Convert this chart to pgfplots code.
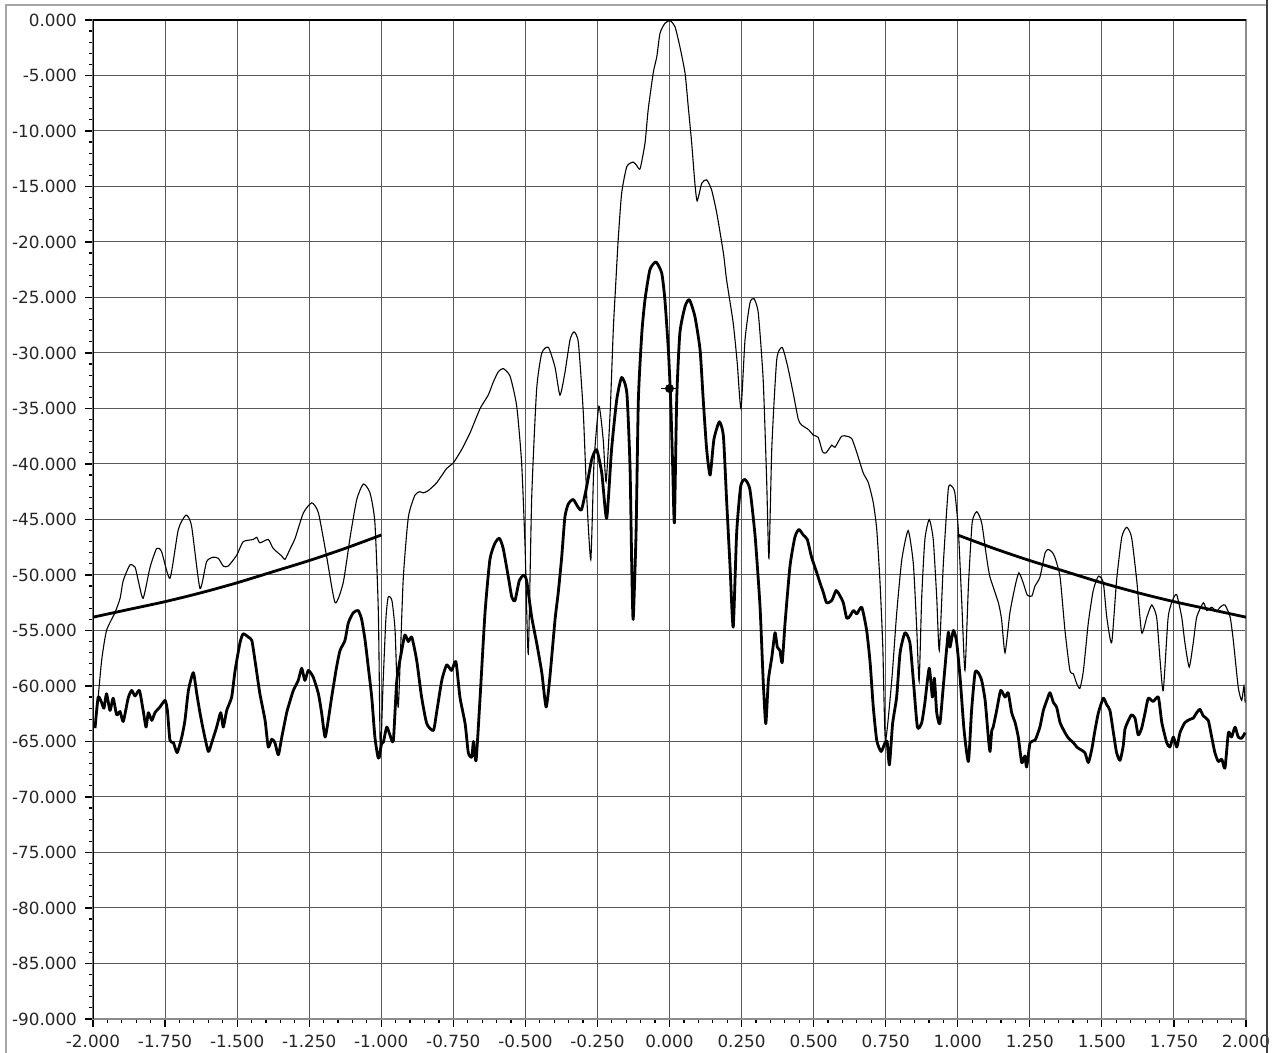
\documentclass[border=0pt]{standalone}
\usepackage{fontspec}
\setmainfont{DejaVu Sans}
\usepackage{pgfplots}
\pgfplotsset{compat=1.18}
\begin{document}
\begin{tikzpicture}
\begin{axis}[
  at={(0,0)}, anchor=south west,
  scale only axis, width=576.5pt, height=499.5pt,
  xmin=-2, xmax=2, ymin=-90, ymax=0,
  xtick={-2,-1.75,-1.5,-1.25,-1,-0.75,-0.5,-0.25,0,0.25,0.5,0.75,1,1.25,1.5,1.75,2},
  xticklabels={-2.000,-1.750,-1.500,-1.250,-1.000,-0.750,-0.500,-0.250,0.000,0.250,0.500,0.750,1.000,1.250,1.500,1.750,2.000},
  ytick={-90,-85,-80,-75,-70,-65,-60,-55,-50,-45,-40,-35,-30,-25,-20,-15,-10,-5,0},
  yticklabels={-90.000,-85.000,-80.000,-75.000,-70.000,-65.000,-60.000,-55.000,-50.000,-45.000,-40.000,-35.000,-30.000,-25.000,-20.000,-15.000,-10.000,-5.000,0.000},
  minor x tick num=4, minor y tick num=4,
  xtick pos=left, ytick pos=left,
  tick align=outside, major tick length=4pt, minor tick length=2pt,
  tick style={black, line width=0.6pt},
  grid=major, major grid style={black!65, line width=0.5pt},
  axis line style={black!45, line width=0.6pt},
  ticklabel style={font=\fontsize{8.4}{10}\selectfont, text=black!85},
  xticklabel style={yshift=-0.5pt},
  yticklabel style={xshift=-0.5pt},
  clip=true,
]
% thin curve
\addplot[black, line width=0.55pt, smooth, tension=0.35] coordinates {
(-1.993,-63.5)(-1.987,-62.4)(-1.970,-57.7)(-1.953,-55.0)(-1.924,-53.4)(-1.906,-52.1)(-1.895,-50.5)(-1.872,-49.1)(-1.854,-49.3)(-1.843,-50.5)(-1.826,-52.1)(-1.802,-49.3)(-1.779,-47.6)(-1.762,-47.9)(-1.733,-50.3)(-1.704,-45.9)(-1.677,-44.6)(-1.658,-45.6)(-1.629,-51.2)(-1.606,-48.8)(-1.583,-48.4)(-1.565,-48.5)(-1.548,-49.2)(-1.531,-49.2)(-1.501,-48.2)(-1.479,-47.0)(-1.444,-46.8)(-1.432,-46.6)(-1.421,-47.1)(-1.392,-46.8)(-1.375,-47.6)(-1.345,-48.3)(-1.334,-48.6)(-1.317,-47.7)(-1.299,-46.7)(-1.270,-44.4)(-1.241,-43.5)(-1.218,-44.4)(-1.189,-48.4)(-1.160,-52.5)(-1.132,-50.7)(-1.108,-46.6)(-1.085,-43.2)(-1.062,-41.8)(-1.039,-42.6)(-1.022,-45.3)(-1.010,-53.4)(-1.003,-66.2)(-0.994,-60.0)(-0.984,-54.0)(-0.976,-52.0)(-0.963,-52.3)(-0.952,-55.0)(-0.941,-61.9)(-0.924,-50.5)(-0.906,-44.8)(-0.883,-42.8)(-0.866,-42.5)(-0.854,-42.6)(-0.837,-42.4)(-0.808,-41.7)(-0.773,-40.4)(-0.750,-39.9)(-0.721,-38.7)(-0.692,-37.2)(-0.657,-35.0)(-0.629,-33.8)(-0.611,-32.6)(-0.594,-31.7)(-0.577,-31.4)(-0.553,-32.1)(-0.530,-34.8)(-0.513,-39.9)(-0.501,-47.5)(-0.490,-57.1)(-0.478,-43.0)(-0.461,-33.3)(-0.443,-30.0)(-0.420,-29.5)(-0.397,-31.3)(-0.380,-33.8)(-0.363,-31.8)(-0.345,-28.8)(-0.331,-28.1)(-0.316,-29.1)(-0.299,-35.4)(-0.287,-43.0)(-0.273,-48.6)(-0.262,-39.9)(-0.245,-34.8)(-0.230,-37.8)(-0.220,-41.6)(-0.206,-35.4)(-0.195,-27.9)(-0.187,-24.0)(-0.178,-19.8)(-0.166,-15.6)(-0.148,-13.2)(-0.126,-12.8)(-0.114,-13.1)(-0.102,-13.4)(-0.085,-11.1)(-0.074,-8.1)(-0.056,-4.7)(-0.044,-3.3)(-0.033,-1.2)(-0.016,-0.3)(0.002,-0.06)(0.019,-0.6)(0.036,-2.4)(0.054,-4.8)(0.065,-7.8)(0.077,-11.1)(0.088,-14.7)(0.096,-16.3)(0.112,-14.7)(0.129,-14.4)(0.146,-15.3)(0.164,-17.4)(0.187,-21.0)(0.198,-23.4)(0.221,-27.3)(0.235,-30.9)(0.248,-35.0)(0.262,-28.8)(0.279,-25.5)(0.293,-25.1)(0.308,-26.4)(0.325,-32.4)(0.337,-41.4)(0.345,-48.5)(0.355,-38.5)(0.372,-30.6)(0.391,-29.5)(0.409,-31.1)(0.429,-33.6)(0.447,-36.0)(0.459,-36.5)(0.482,-36.9)(0.499,-37.4)(0.516,-37.6)(0.531,-38.9)(0.543,-39.0)(0.563,-38.3)(0.574,-38.5)(0.597,-37.5)(0.615,-37.5)(0.632,-37.7)(0.649,-38.9)(0.672,-40.8)(0.690,-41.7)(0.707,-43.5)(0.719,-45.9)(0.730,-50.5)(0.740,-56.5)(0.749,-64.9)(0.771,-59.5)(0.788,-53.5)(0.806,-48.6)(0.828,-46.0)(0.846,-49.0)(0.858,-55.0)(0.866,-59.6)(0.875,-52.0)(0.886,-46.8)(0.901,-45.0)(0.915,-46.8)(0.927,-52.0)(0.936,-56.8)(0.950,-49.0)(0.967,-42.3)(0.979,-42.0)(0.990,-42.6)(1.002,-45.9)(1.014,-52.5)(1.025,-58.6)(1.037,-51.0)(1.050,-45.3)(1.066,-44.3)(1.083,-45.3)(1.100,-48.4)(1.112,-50.2)(1.141,-52.5)(1.152,-54.0)(1.164,-57.0)(1.181,-53.4)(1.199,-51.0)(1.212,-49.8)(1.227,-50.7)(1.241,-51.8)(1.257,-51.9)(1.268,-51.0)(1.285,-50.2)(1.303,-48.0)(1.314,-47.7)(1.326,-47.9)(1.337,-48.4)(1.355,-50.2)(1.372,-55.0)(1.389,-58.6)(1.401,-58.9)(1.413,-59.8)(1.424,-60.2)(1.436,-58.6)(1.453,-54.3)(1.470,-51.4)(1.488,-50.1)(1.505,-50.7)(1.517,-53.8)(1.534,-56.1)(1.551,-50.5)(1.569,-46.6)(1.586,-45.7)(1.603,-46.6)(1.621,-50.5)(1.638,-55.2)(1.656,-53.8)(1.673,-52.7)(1.690,-53.8)(1.702,-57.7)(1.713,-60.4)(1.730,-53.8)(1.748,-52.1)(1.760,-51.8)(1.777,-53.8)(1.788,-56.1)(1.803,-58.3)(1.817,-56.1)(1.829,-53.8)(1.852,-52.5)(1.864,-53.2)(1.881,-52.9)(1.898,-53.3)(1.910,-52.9)(1.927,-52.7)(1.945,-53.8)(1.956,-55.9)(1.973,-60.1)(1.985,-61.3)(1.993,-60.0)(1.997,-61.5)
};
% thick curve
\addplot[black, line width=1.4pt, line join=round, smooth, tension=0.35] coordinates {
(-1.993,-63.8)(-1.982,-61.0)(-1.970,-61.5)(-1.962,-62.0)(-1.953,-60.7)(-1.941,-62.2)(-1.930,-61.1)(-1.918,-62.6)(-1.906,-62.3)(-1.895,-63.2)(-1.878,-61.1)(-1.866,-60.4)(-1.854,-60.9)(-1.839,-60.4)(-1.826,-62.2)(-1.816,-63.7)(-1.808,-62.4)(-1.796,-63.1)(-1.785,-62.4)(-1.768,-61.9)(-1.750,-61.3)(-1.742,-62.2)(-1.733,-64.9)(-1.721,-65.1)(-1.708,-66.0)(-1.692,-64.6)(-1.681,-63.1)(-1.669,-60.4)(-1.652,-58.8)(-1.640,-60.7)(-1.629,-62.4)(-1.617,-64.0)(-1.600,-65.9)(-1.588,-65.1)(-1.571,-63.7)(-1.557,-62.4)(-1.548,-63.7)(-1.536,-62.2)(-1.519,-61.0)(-1.507,-58.6)(-1.490,-56.1)(-1.479,-55.3)(-1.461,-55.6)(-1.449,-55.9)(-1.438,-57.7)(-1.421,-60.7)(-1.403,-63.1)(-1.392,-65.5)(-1.380,-64.8)(-1.369,-65.1)(-1.357,-66.2)(-1.345,-64.6)(-1.328,-62.4)(-1.317,-61.4)(-1.305,-60.4)(-1.288,-59.5)(-1.276,-58.4)(-1.265,-59.5)(-1.253,-58.6)(-1.236,-59.2)(-1.218,-60.7)(-1.207,-62.4)(-1.195,-64.6)(-1.184,-63.1)(-1.172,-61.0)(-1.155,-58.3)(-1.143,-56.8)(-1.126,-55.9)(-1.114,-54.3)(-1.097,-53.4)(-1.080,-53.2)(-1.068,-54.0)(-1.056,-55.9)(-1.045,-58.3)(-1.033,-61.0)(-1.022,-64.6)(-1.010,-66.5)(-0.998,-65.1)(-0.993,-65.1)(-0.981,-63.7)(-0.970,-64.4)(-0.958,-64.9)(-0.946,-59.5)(-0.929,-56.8)(-0.918,-55.4)(-0.906,-56.0)(-0.894,-55.6)(-0.877,-57.7)(-0.860,-61.0)(-0.842,-63.4)(-0.819,-64.0)(-0.808,-62.4)(-0.790,-59.5)(-0.773,-58.1)(-0.756,-58.6)(-0.741,-57.8)(-0.727,-61.0)(-0.709,-63.4)(-0.698,-66.0)(-0.686,-66.4)(-0.680,-65.0)(-0.671,-66.7)(-0.657,-61.0)(-0.640,-53.4)(-0.623,-48.6)(-0.605,-47.1)(-0.590,-46.7)(-0.577,-47.6)(-0.559,-50.2)(-0.547,-52.0)(-0.536,-52.3)(-0.521,-50.5)(-0.505,-50.0)(-0.495,-50.6)(-0.478,-53.8)(-0.461,-56.1)(-0.443,-58.8)(-0.428,-61.9)(-0.415,-59.2)(-0.397,-54.0)(-0.386,-51.6)(-0.374,-48.4)(-0.363,-44.8)(-0.351,-43.6)(-0.334,-43.2)(-0.317,-43.9)(-0.305,-44.1)(-0.287,-42.0)(-0.270,-39.6)(-0.253,-38.7)(-0.235,-40.8)(-0.218,-44.9)(-0.201,-38.7)(-0.183,-34.2)(-0.166,-32.2)(-0.148,-33.6)(-0.137,-40.2)(-0.131,-49.2)(-0.126,-54.0)(-0.116,-46.2)(-0.108,-34.2)(-0.096,-28.2)(-0.085,-25.2)(-0.068,-22.5)(-0.047,-21.8)(-0.027,-22.8)(-0.016,-25.2)(-0.004,-29.7)(0.004,-34.2)(0.011,-40.2)(0.017,-45.3)(0.025,-34.2)(0.036,-28.2)(0.054,-25.8)(0.069,-25.2)(0.088,-26.7)(0.106,-29.7)(0.117,-34.2)(0.129,-38.7)(0.141,-41.0)(0.154,-37.8)(0.173,-36.2)(0.187,-37.5)(0.198,-43.2)(0.210,-49.2)(0.221,-54.7)(0.233,-46.2)(0.247,-42.0)(0.262,-41.4)(0.279,-42.3)(0.297,-46.5)(0.314,-52.8)(0.325,-59.5)(0.334,-63.4)(0.343,-59.5)(0.355,-57.4)(0.366,-55.2)(0.374,-56.5)(0.383,-56.8)(0.391,-57.9)(0.401,-54.3)(0.418,-49.2)(0.435,-46.6)(0.449,-45.9)(0.464,-46.4)(0.478,-46.8)(0.493,-48.4)(0.511,-49.8)(0.522,-50.7)(0.534,-51.6)(0.545,-52.5)(0.563,-52.3)(0.578,-51.4)(0.592,-51.9)(0.603,-52.5)(0.615,-53.9)(0.626,-53.7)(0.638,-53.2)(0.650,-53.5)(0.667,-52.9)(0.684,-55.0)(0.696,-57.9)(0.707,-61.9)(0.719,-64.9)(0.734,-65.9)(0.748,-65.1)(0.755,-65.0)(0.763,-67.1)(0.774,-63.4)(0.788,-61.0)(0.800,-57.0)(0.817,-55.2)(0.834,-56.1)(0.846,-59.5)(0.860,-63.7)(0.875,-63.3)(0.886,-61.5)(0.901,-58.4)(0.912,-61.0)(0.919,-59.3)(0.927,-62.4)(0.938,-63.4)(0.950,-60.0)(0.967,-55.2)(0.973,-56.5)(0.985,-55.0)(0.996,-56.0)(1.008,-59.2)(1.022,-64.0)(1.037,-66.8)(1.048,-62.2)(1.060,-58.8)(1.071,-58.8)(1.083,-59.5)(1.095,-61.3)(1.106,-64.6)(1.112,-65.9)(1.118,-64.0)(1.123,-63.7)(1.135,-62.2)(1.149,-60.4)(1.164,-61.0)(1.175,-60.6)(1.187,-62.4)(1.199,-63.3)(1.210,-64.6)(1.222,-66.9)(1.233,-66.3)(1.239,-67.3)(1.251,-65.1)(1.268,-64.9)(1.285,-63.7)(1.297,-62.2)(1.309,-61.3)(1.320,-60.6)(1.332,-61.5)(1.343,-61.9)(1.355,-63.3)(1.372,-64.2)(1.384,-64.7)(1.401,-65.1)(1.413,-65.5)(1.424,-65.7)(1.441,-66.0)(1.453,-66.9)(1.465,-65.7)(1.476,-64.0)(1.488,-62.4)(1.505,-61.1)(1.517,-61.7)(1.528,-62.2)(1.540,-64.2)(1.551,-66.0)(1.563,-66.7)(1.574,-65.4)(1.580,-63.9)(1.592,-63.1)(1.603,-62.6)(1.615,-62.9)(1.626,-64.4)(1.638,-63.8)(1.650,-62.4)(1.661,-61.1)(1.678,-61.4)(1.696,-61.0)(1.708,-63.3)(1.725,-65.1)(1.736,-65.5)(1.748,-64.6)(1.760,-65.5)(1.771,-64.2)(1.788,-63.3)(1.806,-63.0)(1.817,-62.9)(1.829,-62.4)(1.840,-62.1)(1.852,-62.7)(1.869,-63.1)(1.881,-64.6)(1.892,-66.0)(1.904,-66.8)(1.916,-66.6)(1.927,-67.4)(1.939,-64.2)(1.950,-64.6)(1.962,-63.7)(1.973,-64.6)(1.985,-64.7)(1.997,-64.2)
};
% mask left
\addplot[black, line width=1.4pt, smooth] coordinates {
(-2.000,-53.8)(-1.875,-53.1)(-1.750,-52.4)(-1.625,-51.6)(-1.500,-50.7)(-1.375,-49.7)(-1.250,-48.7)(-1.125,-47.6)(-1.000,-46.4)
};
% mask right
\addplot[black, line width=1.4pt, smooth] coordinates {
(1.000,-46.4)(1.125,-47.6)(1.250,-48.7)(1.375,-49.7)(1.500,-50.7)(1.625,-51.6)(1.750,-52.4)(1.875,-53.1)(2.000,-53.8)
};
% marker
\addplot[black, line width=0.6pt] coordinates {(-0.03,-33.2)(0.03,-33.2)};
\addplot[black, only marks, mark=*, mark size=2pt] coordinates {(0.0,-33.2)};
\draw[black, line width=0.8pt] (rel axis cs:0,0) -- (rel axis cs:0,1) -- (rel axis cs:1,1);
\end{axis}
\pgfresetboundingbox
\path[use as bounding box] (-46.5pt,-17pt) rectangle (593.5pt,509.5pt);
\draw[black!35, line width=0.8pt] (-43.5pt,-17pt) -- (-43.5pt,507pt) -- (586.5pt,507pt);
\draw[black!75, line width=1pt] (587pt,-17pt) -- (587pt,509.5pt);
\end{tikzpicture}
\end{document}
